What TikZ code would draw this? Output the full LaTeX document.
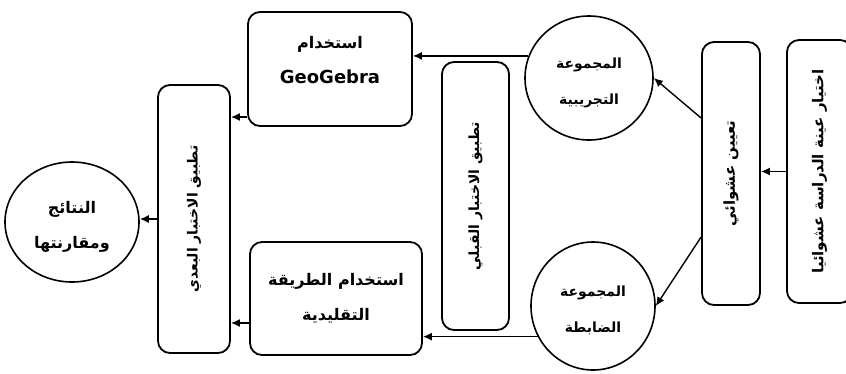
\documentclass[tikz,border=0pt]{standalone}
\usepackage{fontspec}
\setmainfont{DejaVu Sans}
\newfontfamily\arabicfont[Script=Arabic]{DejaVu Sans}
\TeXXeTstate=1
\usetikzlibrary{arrows.meta,calc,shapes.geometric}
\begin{document}
\begin{tikzpicture}[x=1pt,y=-1pt,
  box/.style={draw, line width=1.8pt, rounded corners=12pt, inner sep=0pt},
  circ/.style={draw, line width=1.6pt, ellipse, inner sep=0pt},
  arr/.style={line width=1.4pt, -{Latex[length=9pt,width=8pt]}},
  lblA/.style={font=\arabicfont\bfseries\fontsize{15}{17}\selectfont, inner sep=0pt},
  lblB/.style={font=\arabicfont\bfseries\fontsize{14}{16}\selectfont, inner sep=0pt},
  two/.style={align=center, inner sep=0pt, font=\arabicfont\bfseries\fontsize{14}{36}\selectfont},
  twoL/.style={align=center, inner sep=0pt, font=\arabicfont\bfseries\fontsize{16}{35}\selectfont}]
\useasboundingbox (0,0) rectangle (846,373);
\fill[white] (0,0) rectangle (846,373);

% rotated boxes
\node[box, minimum width=65pt, minimum height=263pt,
  label={[rotate=90,lblA]center:\beginR اختيار عينة الدراسة عشوائيا\endR}] (sel) at (819.5,171.5) {};
\node[box, minimum width=58pt, minimum height=263pt,
  label={[rotate=90,lblA]center:\beginR تعيين عشوائي\endR}] (assign) at (731,173.5) {};
\node[box, minimum width=67pt, minimum height=268pt,
  label={[rotate=90,lblB]center:\beginR تطبيق الاختبار القبلي\endR}] (pre) at (475.5,196) {};
\node[box, minimum width=72pt, minimum height=268pt,
  label={[rotate=90,lblB]center:\beginR تطبيق الاختبار البعدي\endR}] (post) at (194,219) {};

% circles
\node[circ, minimum width=128pt, minimum height=124pt,
  label={[two, yshift=-5pt]center:\beginR المجموعة\endR\\\beginR التجريبية\endR}] (exp) at (589,78) {};
\node[circ, minimum width=124pt, minimum height=128pt,
  label={[two, yshift=-4pt]center:\beginR المجموعة\endR\\\beginR الضابطة\endR}] (ctl) at (593,306) {};
\node[circ, minimum width=134pt, minimum height=120pt,
  label={[twoL, yshift=-5pt]center:\beginR النتائج\endR\\\beginR ومقارنتها\endR}] (res) at (72,222) {};

% horizontal boxes
\node[box, minimum width=164pt, minimum height=114pt,
  label={[twoL, yshift=9pt]center:\beginR استخدام\endR\\{\fontspec{DejaVu Sans}\bfseries\fontsize{18}{20}\selectfont GeoGebra}}] (geo) at (330,69) {};
\node[box, minimum width=172pt, minimum height=113pt,
  label={[twoL]center:\beginR استخدام الطريقة\endR\\\beginR التقليدية\endR}] (trad) at (336,298.5) {};

% helper heights
\coordinate (ya1) at (0,118);
\coordinate (ya2) at (0,237);
\coordinate (yg) at (0,117);
\coordinate (yt) at (0,323);

% connectors
\draw[arr] (sel.west) -- (sel.west -| assign.east);
\draw[arr] (assign.west |- ya1) -- (exp.east);
\draw[arr] (assign.west |- ya2) -- (ctl.east);
\draw[arr] (exp.160) -- (exp.160 -| geo.east);
\draw[arr] (ctl.209.5) -- (ctl.209.5 -| trad.east);
\draw[arr] (geo.west |- yg) -- (post.east |- yg);
\draw[arr] (trad.west |- yt) -- (post.east |- yt);
\draw[arr] (post.west) -- (post.west -| res.east);
\end{tikzpicture}
\end{document}
